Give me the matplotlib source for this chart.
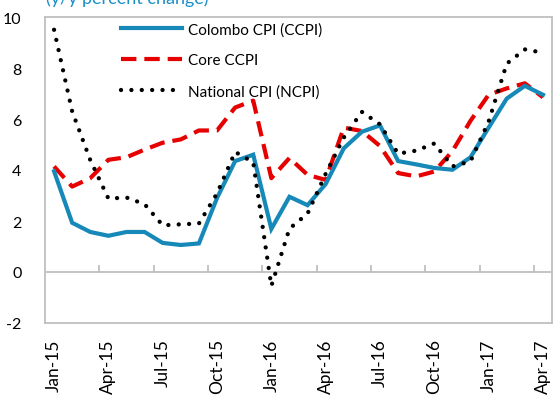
import numpy as np
import matplotlib.pyplot as plt

# monthly data, Jan-15 .. Apr-17 (y/y percent change)
months = ['Jan-15', 'Feb-15', 'Mar-15', 'Apr-15', 'May-15', 'Jun-15', 'Jul-15',
          'Aug-15', 'Sep-15', 'Oct-15', 'Nov-15', 'Dec-15', 'Jan-16', 'Feb-16',
          'Mar-16', 'Apr-16', 'May-16', 'Jun-16', 'Jul-16', 'Aug-16', 'Sep-16',
          'Oct-16', 'Nov-16', 'Dec-16', 'Jan-17', 'Feb-17', 'Mar-17', 'Apr-17']
ccpi = [3.95, 1.93, 1.57, 1.42, 1.57, 1.57, 1.14, 1.06, 1.12, 2.9, 4.35, 4.6,
        1.69, 2.95, 2.62, 3.45, 4.85, 5.5, 5.75, 4.35, 4.22, 4.08, 4.01, 4.5,
        5.66, 6.8, 7.3, 6.95]
core = [4.14, 3.35, 3.68, 4.4, 4.5, 4.8, 5.07, 5.2, 5.55, 5.55, 6.45, 6.72,
        3.68, 4.47, 3.81, 3.61, 5.66, 5.53, 4.94, 3.88, 3.75, 3.94, 4.74, 5.93,
        6.95, 7.2, 7.4, 6.85]
ncpi = [9.5, 6.3, 4.39, 2.88, 2.92, 2.66, 1.83, 1.87, 1.9, 3.08, 4.71, 4.3,
        -0.55, 1.7, 2.29, 3.85, 5.27, 6.28, 5.79, 4.64, 4.76, 5.04, 4.14, 4.34,
        5.9, 8.17, 8.73, 8.6]
tick_every = 3

plt.rcParams['font.family'] = ['Lato', 'DejaVu Sans']

fig = plt.figure(figsize=(5.53, 4.02), dpi=100)
ax = fig.add_axes([45/553, 1 - 324/402, 507/553, 306/402])

x = np.arange(len(months))
blue = '#1689b8'
red = '#e60000'
ax.plot(x, ccpi, color=blue, lw=3.0, solid_joinstyle='miter', label='Colombo CPI (CCPI)', zorder=3)
ax.plot(x, core, color=red, lw=3.0, dashes=(3.7, 1.9), label='Core CCPI', zorder=2)
ax.plot(x, ncpi, color='black', lw=3.1, dashes=(0.01, 2.4), dash_capstyle='round',
        label='National CPI (NCPI)', zorder=4)

ax.set_xlim(-0.5, len(months) - 0.5)
ax.set_ylim(-2, 10)

# zero line with Excel-style category tick marks
grey = '#bfbfbf'
ax.axhline(0, color=grey, lw=1.3, zorder=1)
for b in np.arange(tick_every - 0.5, len(months) - 1, tick_every):
    ax.plot([b, b], [0, 0.24], color=grey, lw=1.3, zorder=1)

for s in ax.spines.values():
    s.set_color(grey)
    s.set_linewidth(1.3)

ax.set_yticks(np.arange(-2, 11, 2))
ax.set_yticklabels([str(v) for v in range(-2, 11, 2)])
ax.set_xticks(x[::tick_every])
ax.set_xticklabels(months[::tick_every], rotation=90)
ax.tick_params(axis='y', length=0, pad=17, labelsize=11.5)
ax.tick_params(axis='x', length=0, pad=11, labelsize=12.5)

leg = ax.legend(loc='upper left', bbox_to_anchor=(121/553, 1 - 23/402),
                bbox_transform=fig.transFigure, frameon=False, fontsize=11,
                handlelength=4.0, handletextpad=0.4, labelspacing=1.1,
                borderpad=0, borderaxespad=0)

fig.text(46/553, 1 - 4/402, '(y/y percent change)', color='#1a8fc8',
         fontsize=13, va='baseline', ha='left')

fig.savefig('out.png', dpi=100)
